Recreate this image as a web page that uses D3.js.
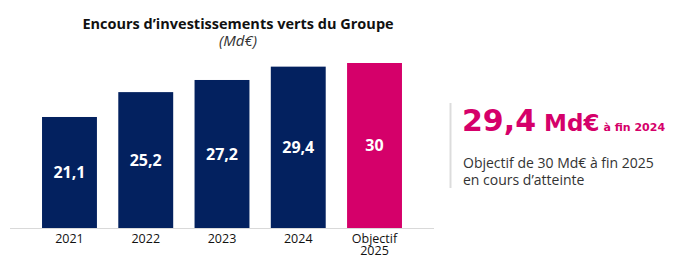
<!DOCTYPE html>
<html>
<head>
    <meta charset="UTF-8">
    <title>Encours d'investissements verts du Groupe</title>
    <script src="https://cdn.jsdelivr.net/npm/d3@7/dist/d3.min.js"></script>
    <style>
        body, html { margin: 0; padding: 0; background: #fff; }
        svg { display: block; font-family: "Open Sans", sans-serif; }
    </style>
</head>
<body>
    <svg id="chart" width="700" height="265"></svg>

    <script>
        // data
        var categories = ["2021", "2022", "2023", "2024", "Objectif 2025"];
        var values = [21.1, 25.2, 27.2, 29.4, 30];
        var valueLabels = ["21,1", "25,2", "27,2", "29,4", "30"];

        var navy = "#03215f";
        var pink = "#d5006a";

        var svg = d3.select("#chart");

        var x = d3.scaleBand()
            .domain(categories)
            .range([10, 434])
            .paddingInner(0.28)
            .paddingOuter(0.42);

        var y = d3.scaleLinear()
            .domain([2.8, 30])
            .range([228, 63]);

        // title
        svg.append("text")
            .attr("x", 238).attr("y", 29)
            .attr("text-anchor", "middle")
            .attr("font-size", "14.5px")
            .attr("font-weight", "bold")
            .attr("fill", "#111")
            .text("Encours d\u2019investissements verts du Groupe");

        svg.append("text")
            .attr("x", 238).attr("y", 46)
            .attr("text-anchor", "middle")
            .attr("font-size", "15px")
            .attr("font-style", "italic")
            .attr("fill", "#333")
            .text("(Md\u20ac)");

        var data = categories.map(function (c, i) { return { cat: c, value: values[i], label: valueLabels[i] }; });

        svg.selectAll("rect.bar")
            .data(data)
            .enter()
            .append("rect")
            .attr("class", "bar")
            .attr("x", function (d) { return x(d.cat); })
            .attr("y", function (d) { return y(d.value); })
            .attr("width", x.bandwidth())
            .attr("height", function (d) { return y.range()[0] - y(d.value); })
            .attr("fill", function (d, i) { return i === data.length - 1 ? pink : navy; });

        svg.selectAll("text.val")
            .data(data)
            .enter()
            .append("text")
            .attr("class", "val")
            .attr("x", function (d) { return x(d.cat) + x.bandwidth() / 2; })
            .attr("y", function (d) { return (y(d.value) + y.range()[0]) / 2; })
            .attr("dy", "0.35em")
            .attr("text-anchor", "middle")
            .attr("font-size", "16px")
            .attr("font-weight", "bold")
            .attr("fill", "#fff")
            .text(function (d) { return d.label; });

        // baseline
        svg.append("line")
            .attr("x1", x.range()[0]).attr("x2", x.range()[1])
            .attr("y1", y.range()[0] + 0.5).attr("y2", y.range()[0] + 0.5)
            .attr("stroke", "#d9d9d9")
            .attr("stroke-width", 1);

        // category labels, "Objectif 2025" on two lines
        var cats = svg.selectAll("text.cat")
            .data(data)
            .enter()
            .append("text")
            .attr("class", "cat")
            .attr("text-anchor", "middle")
            .attr("font-size", "12.5px")
            .attr("fill", "#111");

        cats.selectAll("tspan")
            .data(function (d) {
                var parts = d.cat.split(" ");
                return parts.map(function (p) { return { text: p, cx: x(d.cat) + x.bandwidth() / 2 }; });
            })
            .enter()
            .append("tspan")
            .attr("x", function (t) { return t.cx; })
            .attr("y", function (t, i) { return 243 + i * 11.5; })
            .text(function (t) { return t.text; });

        // right hand key figure
        svg.append("line")
            .attr("x1", 450.5).attr("x2", 450.5)
            .attr("y1", 103).attr("y2", 188)
            .attr("stroke", "#dcdcdc")
            .attr("stroke-width", 2);

        var big = svg.append("text")
            .attr("x", 462).attr("y", 131)
            .attr("fill", pink)
            .attr("font-family", "'DejaVu Sans', sans-serif")
            .attr("font-weight", "bold");
        big.append("tspan").attr("font-size", "30px").text(valueLabels[3]);
        big.append("tspan").attr("font-size", "23px").attr("dx", 8).text("Md\u20ac");
        big.append("tspan").attr("font-size", "11px").attr("dx", 4).text("\u00e0 fin " + categories[3]);

        svg.append("text")
            .attr("x", 463).attr("y", 168)
            .attr("font-size", "14px")
            .attr("fill", "#333")
            .text("Objectif de " + valueLabels[4] + " Md\u20ac \u00e0 fin 2025");

        svg.append("text")
            .attr("x", 463).attr("y", 185)
            .attr("font-size", "14px")
            .attr("fill", "#333")
            .text("en cours d\u2019atteinte");
    </script>
</body>
</html>
